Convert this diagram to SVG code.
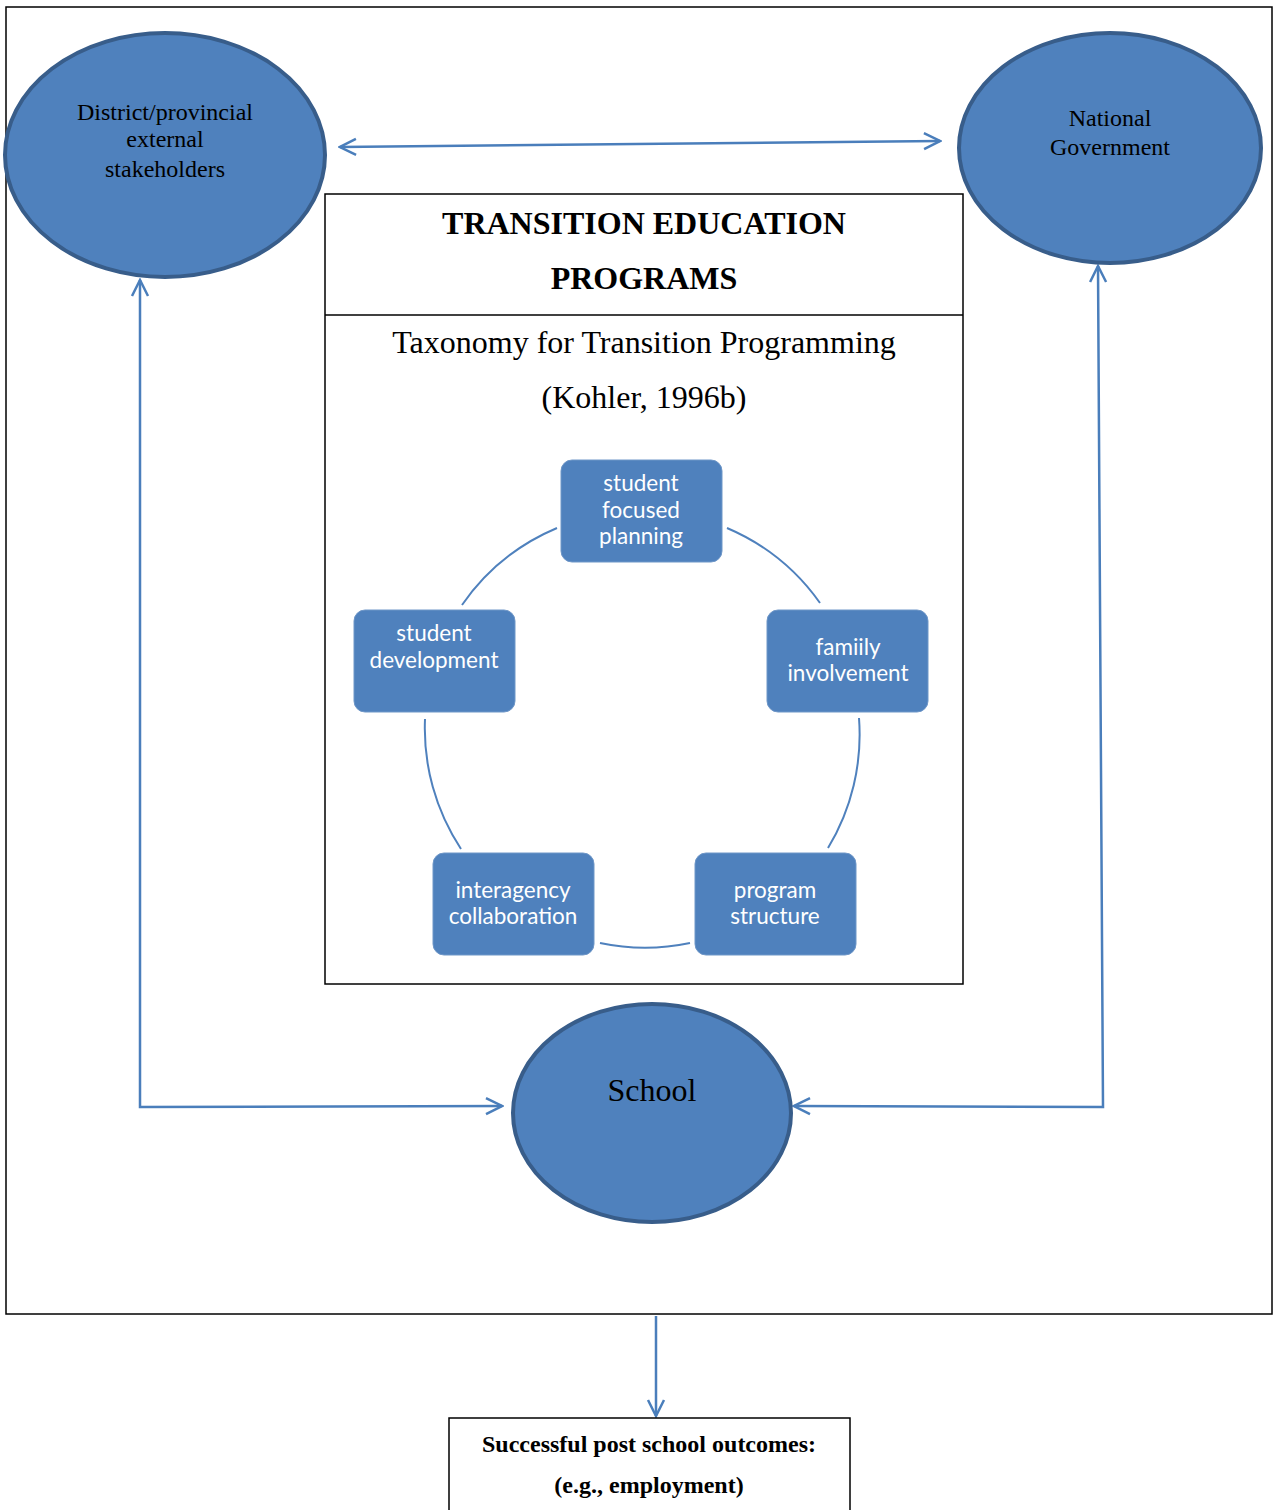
<svg xmlns="http://www.w3.org/2000/svg" width="1279" height="1510" viewBox="0 0 1279 1510">
<defs>
<style>
.ell{fill:#4f81bd;stroke:#385d8a;stroke-width:4}
.box{fill:#4f81bd;stroke:#6f97c8;stroke-width:1}
.frame{fill:none;stroke:#000;stroke-width:1.5}
.serif{font-family:"Liberation Serif","Times New Roman",serif;fill:#000;text-anchor:middle}
.sans{font-family:Lato,"Liberation Sans",sans-serif;fill:#fff;text-anchor:middle;font-size:22.5px}
.conn{fill:none;stroke:#4a7ebb;stroke-width:2.5}
.arc{fill:none;stroke:#4f81bd;stroke-width:2}
</style>
<marker id="ah" viewBox="0 0 20 20" refX="18" refY="10" markerWidth="20" markerHeight="20" markerUnits="userSpaceOnUse" orient="auto-start-reverse">
<path d="M2,2 L18,10 L2,18" fill="none" stroke="#4a7ebb" stroke-width="2.5"/>
</marker>
</defs>
<rect width="1279" height="1510" fill="#fff"/>
<rect class="frame" x="6" y="7" width="1266" height="1307"/>

<g id="connectors">
<line class="conn" x1="340" y1="147" x2="940" y2="141" marker-start="url(#ah)" marker-end="url(#ah)"/>
<polyline class="conn" points="140,280 140,1107 502,1106" marker-start="url(#ah)" marker-end="url(#ah)"/>
<polyline class="conn" points="1098,266 1103,1107 794,1106" marker-start="url(#ah)" marker-end="url(#ah)"/>
<line class="conn" x1="656" y1="1316" x2="656" y2="1416" marker-end="url(#ah)"/>
</g>

<g id="district">
<ellipse class="ell" cx="165" cy="155" rx="160" ry="122"/>
<text class="serif" font-size="24" x="165" y="120">District/provincial</text>
<text class="serif" font-size="24" x="165" y="147">external</text>
<text class="serif" font-size="24" x="165" y="177">stakeholders</text>
</g>

<g id="national">
<ellipse class="ell" cx="1110" cy="148" rx="151" ry="115"/>
<text class="serif" font-size="24" x="1110" y="126">National</text>
<text class="serif" font-size="24" x="1110" y="155">Government</text>
</g>

<g id="programs">
<rect class="frame" x="325" y="194" width="638" height="790"/>
<line x1="325" y1="315" x2="963" y2="315" stroke="#000" stroke-width="1.5"/>
<text class="serif" font-size="32" font-weight="bold" x="644" y="234">TRANSITION EDUCATION</text>
<text class="serif" font-size="32" font-weight="bold" x="644" y="289">PROGRAMS</text>
<text class="serif" font-size="32" x="644" y="353">Taxonomy for Transition Programming</text>
<text class="serif" font-size="32" x="644" y="408">(Kohler, 1996b)</text>
</g>

<g id="cycle-arcs">
<path class="arc" d="M462,605 A219,219 0 0 1 557,528"/>
<path class="arc" d="M727,528 A219,219 0 0 1 820,603"/>
<path class="arc" d="M859,718 A219,219 0 0 1 828,848"/>
<path class="arc" d="M690,943 A219,219 0 0 1 600,943"/>
<path class="arc" d="M461,849 A219,219 0 0 1 425,719"/>
</g>

<g id="student-focused-planning">
<rect class="box" x="561" y="460" width="161" height="102" rx="11"/>
<text class="sans" x="641" y="491">student</text>
<text class="sans" x="641" y="518">focused</text>
<text class="sans" x="641" y="544">planning</text>
</g>
<g id="student-development">
<rect class="box" x="354" y="610" width="161" height="102" rx="11"/>
<text class="sans" x="434" y="641">student</text>
<text class="sans" x="434" y="668">development</text>
</g>
<g id="family-involvement">
<rect class="box" x="767" y="610" width="161" height="102" rx="11"/>
<text class="sans" x="848" y="655">famiily</text>
<text class="sans" x="848" y="681">involvement</text>
</g>
<g id="interagency-collaboration">
<rect class="box" x="433" y="853" width="161" height="102" rx="11"/>
<text class="sans" x="513" y="898">interagency</text>
<text class="sans" x="513" y="924">collaboration</text>
</g>
<g id="program-structure">
<rect class="box" x="695" y="853" width="161" height="102" rx="11"/>
<text class="sans" x="775" y="898">program</text>
<text class="sans" x="775" y="924">structure</text>
</g>

<g id="school">
<ellipse class="ell" cx="652" cy="1113" rx="139" ry="109"/>
<text class="serif" font-size="32" x="652" y="1101">School</text>
</g>

<g id="outcomes">
<rect class="frame" x="449" y="1418" width="401" height="100"/>
<text class="serif" font-size="24" font-weight="bold" x="649" y="1452">Successful post school outcomes:</text>
<text class="serif" font-size="24" font-weight="bold" x="649" y="1493">(e.g., employment)</text>
</g>
</svg>
